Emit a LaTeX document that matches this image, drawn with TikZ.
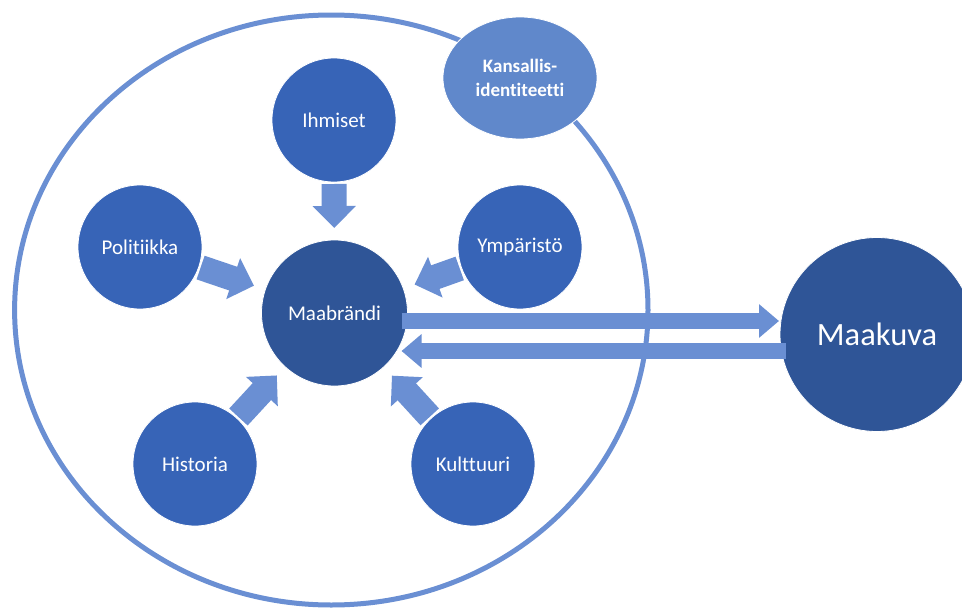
\documentclass[tikz,border=0pt]{standalone}
\usepackage{fontspec}
\setmainfont{Carlito}[RawFeature={-liga;-dlig;-clig}]
\usetikzlibrary{arrows.meta,calc,shapes.geometric}
\definecolor{darkblue}{HTML}{2F5597}
\definecolor{midblue}{HTML}{3764B7}
\definecolor{lightblue}{HTML}{6A8FD3}
\definecolor{kansblue}{HTML}{6088CB}
\begin{document}
\begin{tikzpicture}[x=1pt,y=-1pt,
  bubble/.style={circle, inner sep=0pt, draw=white, line width=0.8pt, text=white, font=\fontsize{21}{25}\selectfont},
  midnode/.style={bubble, fill=midblue, minimum size=124pt},
  radarrow/.style={draw=lightblue, line width=25pt, -{Triangle[width=42pt,length=22pt]}},
  harrow/.style={draw=lightblue, line width=16pt, -{Triangle[width=32.5pt,length=20pt]}}]
\useasboundingbox (0,0) rectangle (962,608);
\clip (0,0) rectangle (962,608);
% outer ring
\draw[lightblue, line width=5pt] (331.3,310) ellipse [x radius=316.7, y radius=295];
\node[ellipse, fill=kansblue, draw=white, line width=0.8pt, minimum width=154pt, minimum height=122pt, inner sep=0pt, text=white, align=center, font=\bfseries\fontsize{19}{24}\selectfont] (kans) at (520,78) {Kansallis-\\identiteetti};
% nodes
\node[bubble, fill=darkblue, minimum size=146pt] (mb) at (334.5,313) {Maabrändi};
\node[midnode] (ihm) at (334,120) {Ihmiset};
\node[midnode] (pol) at (140,247) {Politiikka};
\node[midnode] (ymp) at (520,247) {Ympäristö};
\node[midnode] (his) at (195,464) {Historia};
\node[midnode] (kul) at (473,464) {Kulttuuri};
\node[bubble, fill=darkblue, minimum size=194pt, font=\fontsize{32.5}{37}\selectfont] (mk) at (877,334.5) {Maakuva};
% radial arrows
\foreach \n in {ihm,pol,ymp,his,kul}
  \draw[radarrow] ($(\n.center)!64pt!(mb.center)$) -- ($(mb.center)!85pt!(\n.center)$);
% horizontal arrows
\draw[harrow] ([shift={(67,8)}]mb.center) -- ([shift={(-98,-13.5)}]mk.center);
\draw[harrow] ([shift={(-91,16.5)}]mk.center) -- ([shift={(67,38)}]mb.center);
\end{tikzpicture}
\end{document}
